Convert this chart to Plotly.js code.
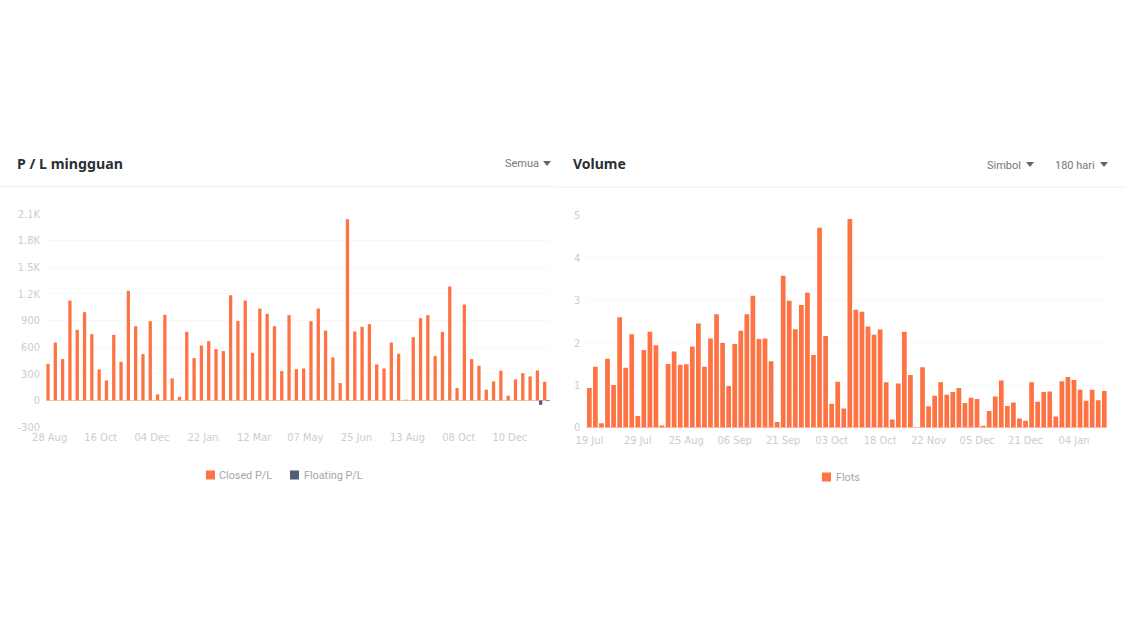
<!DOCTYPE html>
<html><head><meta charset="utf-8">
<script src="https://cdn.plot.ly/plotly-3.0.1.min.js"></script>
<style>html,body{margin:0;padding:0;background:#fff}#c{width:1125px;height:633px}</style>
</head><body><div id="c"></div>
<script>
var plClosed=[412,652,465,1125,795,994,746,349,225,739,435,1234,836,521,892,68,964,248,41,772,476,619,668,578,555,1185,896,1125,536,1035,975,836,330,960,352,360,892,1035,787,484,195,2040,776,829,859,405,360,652,525,8,712,926,960,499,772,1282,139,1080,465,390,120,214,334,52,236,307,270,337,210];
var plFloatIdx=[67,68];
var plFloatVal=[-50,-8];
var plTickIdx=[0,7,14,21,28,35,42,49,56,63];
var plTickText=['28 Aug','16 Oct','04 Dec','22 Jan','12 Mar','07 May','25 Jun','13 Aug','08 Oct','10 Dec'];
var plYVals=[-300,0,300,600,900,1200,1500,1800,2100];
var plYText=['-300','0','300','600','900','1.2K','1.5K','1.8K','2.1K'];
var volFlots=[0.93,1.43,0.10,1.62,1.0,2.6,1.41,2.2,0.27,1.83,2.26,1.94,0.05,1.5,1.79,1.48,1.49,1.91,2.45,1.43,2.1,2.67,1.99,0.98,1.97,2.28,2.67,3.11,2.09,2.1,1.56,0.13,3.58,2.99,2.32,2.89,3.18,1.71,4.71,2.16,0.56,1.08,0.45,4.92,2.78,2.73,2.38,2.19,2.31,1.07,0.19,1.04,2.26,1.24,0,1.42,0.5,0.75,1.07,0.77,0.84,0.93,0.58,0.70,0.67,0.04,0.39,0.73,1.11,0.51,0.59,0.21,0.16,1.07,0.61,0.84,0.85,0.26,1.09,1.19,1.12,0.89,0.63,0.89,0.64,0.86];
var volTickIdx=[0,8,16,24,32,40,48,56,64,72,80];
var volTickText=['19 Jul','29 Jul','25 Aug','06 Sep','21 Sep','03 Oct','18 Oct','22 Nov','05 Dec','21 Dec','04 Jan'];
var volYVals=[0,1,2,3,4,5];

var W=1125,H=633,ORANGE='#fd7343',SLATE='#4f5d75',TICK='#cdcdcd',GRID='#f8f8f8';
var FONT='Roboto, sans-serif',NARROW='"DejaVu Sans Condensed", Roboto, sans-serif';
function px(x){return x/W}
function py(y){return 1-y/H}
function idx(a){return a.map(function(_,i){return i})}
function tri(cx,cy){return {type:'path',xref:'paper',yref:'paper',fillcolor:'#666',line:{width:0},
 path:'M '+px(cx-4)+' '+py(cy-2)+' L '+px(cx+4)+' '+py(cy-2)+' L '+px(cx)+' '+py(cy+3)+' Z'}}
function hline(x0,x1,y){return {type:'line',xref:'paper',yref:'paper',x0:px(x0),x1:px(x1),y0:py(y),y1:py(y),line:{color:'#eeeeee',width:1}}}
function swatch(x,y,c){return {type:'rect',xref:'paper',yref:'paper',x0:px(x),x1:px(x+9),y0:py(y-4.5),y1:py(y+4.5),fillcolor:c,line:{width:0}}}
function label(t,x,y,size,color,anchor,bold){return {text:bold?'<b>'+t+'</b>':t,xref:'paper',yref:'paper',x:px(x),y:py(y),xanchor:anchor,yanchor:'middle',showarrow:false,font:{family:bold?'"Noto Sans", sans-serif':FONT,size:size,color:color}}}
function xax(dom,n,vals,text,off){return {domain:dom,range:[-0.5,n-0.5],tickmode:'array',tickvals:vals,ticktext:text,showgrid:false,zeroline:false,showline:false,ticks:'',ticklabelstandoff:off,tickfont:{family:NARROW,size:11,color:TICK}}}
function yax(dom,range,vals,text,anchor){return {domain:dom,range:range,tickmode:'array',tickvals:vals,ticktext:text,showgrid:true,gridcolor:GRID,gridwidth:1,zeroline:true,zerolinecolor:'#f8c8b4',zerolinewidth:1,showline:false,ticks:'',ticklabelstandoff:5,tickfont:{family:NARROW,size:11,color:TICK},anchor:anchor}}

var traces=[
 {type:'bar',name:'Closed P/L',x:idx(plClosed),y:plClosed,marker:{color:ORANGE},xaxis:'x',yaxis:'y',offsetgroup:'a'},
 {type:'bar',name:'Floating P/L',x:plFloatIdx,y:plFloatVal,marker:{color:SLATE},xaxis:'x',yaxis:'y',offsetgroup:'b'},
 {type:'bar',name:'Flots',x:idx(volFlots),y:volFlots,width:0.78,marker:{color:ORANGE},xaxis:'x2',yaxis:'y2'}
];
var layout={
 width:W,height:H,margin:{l:0,r:0,t:0,b:0},paper_bgcolor:'#fff',plot_bgcolor:'rgba(0,0,0,0)',
 barmode:'group',bargap:0.1,bargroupgap:0,hovermode:false,font:{family:FONT},showlegend:false,
 xaxis:xax([px(46),px(550)],plClosed.length,plTickIdx,plTickText,2),
 yaxis:yax([py(427),py(214)],[-300,2100],plYVals,plYText,'x'),
 xaxis2:xax([px(586.3),px(1107.3)],volFlots.length,volTickIdx,volTickText,5),
 yaxis2:yax([py(427.5),py(215.5)],[0,5],volYVals,volYVals.map(String),'x2'),
 annotations:[
  label('P / L mingguan',15,163,14.2,'#2b2f36','left',true),
  label('Volume',571,164,14,'#2b2f36','left',true),
  label('Semua',541,164,11,'#777','right',false),
  label('Simbol',1023,165,11,'#777','right',false),
  label('180 hari',1097,165,11,'#777','right',false),
  label('Closed P/L',217,475,10.8,'#a6a6a6','left',false),
  label('Floating P/L',302,475,10.8,'#a6a6a6','left',false),
  label('Flots',834,477,10.8,'#a6a6a6','left',false)
 ],
 shapes:[hline(0,556,186.5),hline(556,1125,187),tri(547,163),tri(1030,164),tri(1104,164),
  swatch(206,475,ORANGE),swatch(290,475,SLATE),swatch(822,477,ORANGE)]
};
Plotly.newPlot('c',traces,layout,{displayModeBar:false,staticPlot:true});
</script></body></html>
